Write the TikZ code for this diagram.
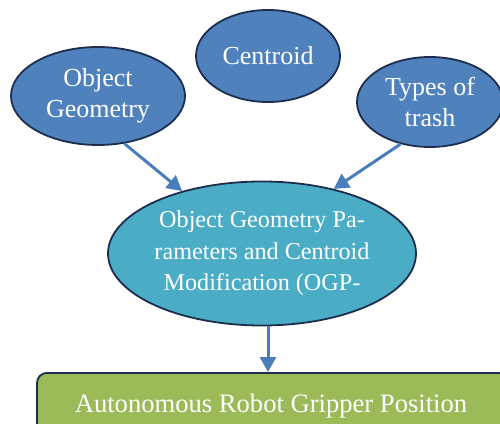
\documentclass[tikz,border=0pt]{standalone}
\usepackage{fontspec}
\setmainfont{Liberation Serif}
\usetikzlibrary{shapes.geometric,arrows.meta}
\definecolor{ellblue}{RGB}{79,129,189}
\definecolor{ellaqua}{RGB}{75,172,198}
\definecolor{boxgreen}{RGB}{155,187,89}
\definecolor{edgenavy}{RGB}{28,45,78}
\definecolor{arrowblue}{RGB}{74,126,187}
\tikzset{
  bubble/.style={ellipse, draw=edgenavy, line width=1.8pt, fill=ellblue,
    text=white, inner sep=0pt, align=center,
    font=\fontsize{26}{30.5}\selectfont},
  mainbubble/.style={bubble, fill=ellaqua, font=\fontsize{24.2}{31.5}\selectfont},
  resultbox/.style={rectangle, rounded corners=10pt, draw=edgenavy,
    line width=1.8pt, fill=boxgreen, text=white, inner sep=0pt},
  link/.style={draw=arrowblue, line width=3pt,
    -{Triangle[length=15pt,width=16pt]}}
}
\begin{document}
\begin{tikzpicture}[x=1pt,y=1pt]
  \useasboundingbox (0,0) rectangle (500,423);
  \clip (0,0) rectangle (500,423);

  % input ellipses
  \node[bubble, minimum width=174pt, minimum height=98pt] (geom) at (98,327)
    {Object\\Geometry};
  \node[bubble, minimum width=144pt, minimum height=92pt] (cent) at (268,367)
    {Centroid};
  \node[bubble, minimum width=146pt, minimum height=90pt] (trash) at (430,321)
    {Types of\\trash};

  % central ellipse
  \node[mainbubble, minimum width=308pt, minimum height=144pt] (ogp) at (262,169.5)
    {Object Geometry Pa-\\rameters and Centroid\\Modification (OGP-};

  % result box
  \node[resultbox, minimum width=472pt, minimum height=90pt, anchor=north]
    (grip) at (273,51) {};
  \node[text=white, font=\fontsize{26.6}{31}\selectfont, anchor=base] (griptext)
    at (271,11) {Autonomous Robot Gripper Position};

  % connectors
  \draw[link] (geom.-61) -- (ogp.142);
  \draw[link] (trash.235) -- (ogp.42);
  \coordinate (down) at ([xshift=6pt]ogp.south);
  \draw[link] (down) -- (down |- grip.north);
\end{tikzpicture}
\end{document}
